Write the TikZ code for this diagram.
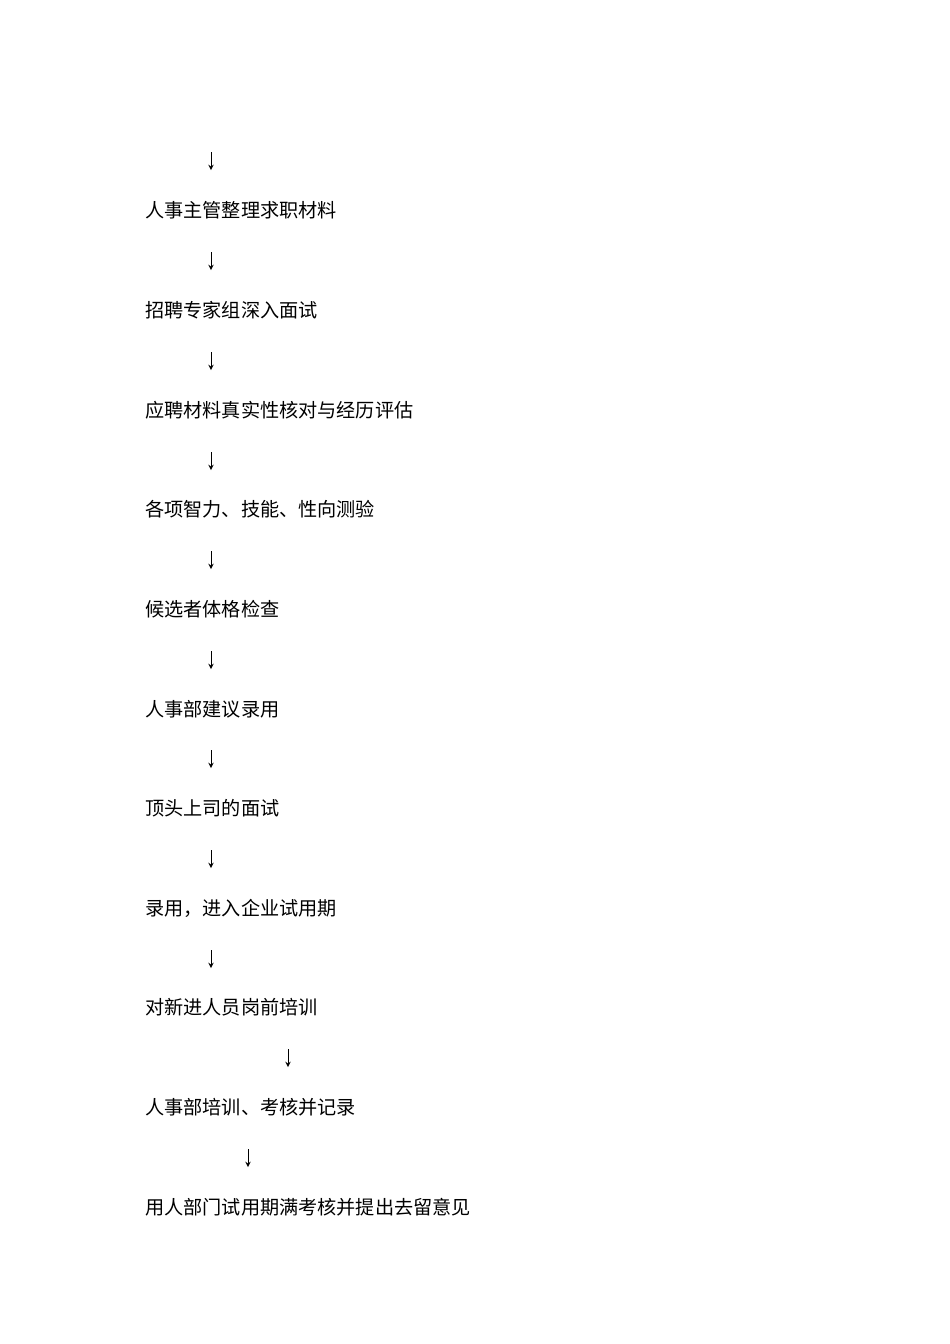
\documentclass[tikz,border=0pt]{standalone}
\usepackage{fontspec}
\newfontfamily\cjk{Noto Sans CJK SC}
\usetikzlibrary{arrows}

\tikzset{
  steplabel/.style={anchor=west,inner sep=0pt,font=\cjk\fontsize{12pt}{14pt}\selectfont},
  downarrow/.style={->,line width=0.5pt}
}

\begin{document}
\begin{tikzpicture}[x=0.6266pt,y=-0.6266pt, >=stealth]
\useasboundingbox (0,0) rectangle (950,1344);
% steps
\node[steplabel] (s1) at (145,210) {人事主管整理求职材料};
\node[steplabel] (s2) at (145,310) {招聘专家组深入面试};
\node[steplabel] (s3) at (145,410) {应聘材料真实性核对与经历评估};
\node[steplabel] (s4) at (145,509) {各项智力、技能、性向测验};
\node[steplabel] (s5) at (145,609) {候选者体格检查};
\node[steplabel] (s6) at (145,709) {人事部建议录用};
\node[steplabel] (s7) at (145,808) {顶头上司的面试};
\node[steplabel] (s8) at (145,908) {录用，进入企业试用期};
\node[steplabel] (s9) at (145,1007) {对新进人员岗前培训};
\node[steplabel] (s10) at (145,1107) {人事部培训、考核并记录};
\node[steplabel] (s11) at (145,1207) {用人部门试用期满考核并提出去留意见};
% arrows
\coordinate (a0t) at (211,152); \coordinate (a0b) at (211,170);
\coordinate (a1t) at (211,252); \coordinate (a1b) at (211,270);
\coordinate (a2t) at (211,352); \coordinate (a2b) at (211,370);
\coordinate (a3t) at (211,452); \coordinate (a3b) at (211,470);
\coordinate (a4t) at (211,551); \coordinate (a4b) at (211,569);
\coordinate (a5t) at (211,651); \coordinate (a5b) at (211,669);
\coordinate (a6t) at (211,750); \coordinate (a6b) at (211,768);
\coordinate (a7t) at (211,850); \coordinate (a7b) at (211,868);
\coordinate (a8t) at (211,950); \coordinate (a8b) at (211,968);
\coordinate (a9t) at (288,1049); \coordinate (a9b) at (288,1067);
\coordinate (a10t) at (248,1149); \coordinate (a10b) at (248,1167);
\draw[downarrow] (a0t) -- (a0b);
\draw[downarrow] (a1t) -- (a1b);
\draw[downarrow] (a2t) -- (a2b);
\draw[downarrow] (a3t) -- (a3b);
\draw[downarrow] (a4t) -- (a4b);
\draw[downarrow] (a5t) -- (a5b);
\draw[downarrow] (a6t) -- (a6b);
\draw[downarrow] (a7t) -- (a7b);
\draw[downarrow] (a8t) -- (a8b);
\draw[downarrow] (a9t) -- (a9b);
\draw[downarrow] (a10t) -- (a10b);
\end{tikzpicture}
\end{document}
